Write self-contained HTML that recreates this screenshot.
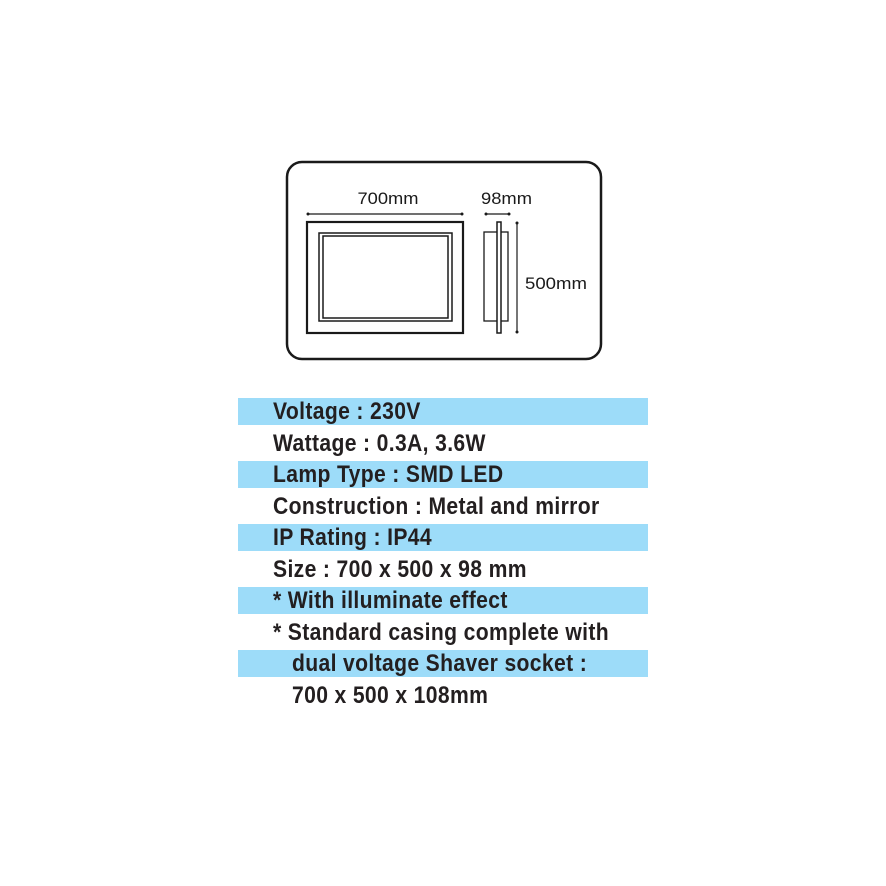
<!DOCTYPE html>
<html><head><meta charset="utf-8"><style>
body{margin:0;background:#fff;width:886px;height:886px;position:relative;overflow:hidden}
.b{position:absolute;left:238px;width:410px;height:27px;background:#9ddcf9}
.t{position:absolute;left:273px;font-family:"Liberation Sans",sans-serif;font-weight:bold;font-size:24px;color:#231f20;white-space:nowrap;line-height:27px;letter-spacing:0.4px;transform:scaleX(0.88);transform-origin:0 0}
</style></head><body>
<svg width="886" height="886" style="position:absolute;left:0;top:0" font-family="Liberation Sans, sans-serif">
<rect x="287" y="162" width="314" height="197" rx="15" fill="none" stroke="#1a1a1a" stroke-width="2.5"/>
<rect x="307" y="222" width="156" height="111" fill="none" stroke="#1a1a1a" stroke-width="2.2"/>
<rect x="319" y="233" width="133" height="88" fill="none" stroke="#1a1a1a" stroke-width="1.5"/>
<rect x="323" y="236" width="125" height="82" fill="none" stroke="#1a1a1a" stroke-width="1.5"/>
<line x1="307" y1="214" x2="463" y2="214" stroke="#1a1a1a" stroke-width="1.2"/>
<circle cx="308" cy="214" r="1.5" fill="#1a1a1a"/><circle cx="462" cy="214" r="1.5" fill="#1a1a1a"/>
<text x="388" y="204" font-size="16.5" text-anchor="middle" fill="#1a1a1a" textLength="61" lengthAdjust="spacingAndGlyphs">700mm</text>
<rect x="484" y="232" width="24" height="89" fill="none" stroke="#1a1a1a" stroke-width="1.3"/>
<rect x="497" y="222" width="4" height="111" fill="#fff" stroke="#1a1a1a" stroke-width="1.5"/>
<line x1="485" y1="214" x2="510" y2="214" stroke="#1a1a1a" stroke-width="1.2"/>
<circle cx="486" cy="214" r="1.5" fill="#1a1a1a"/><circle cx="509" cy="214" r="1.5" fill="#1a1a1a"/>
<text x="481" y="204" font-size="16.5" fill="#1a1a1a" textLength="51" lengthAdjust="spacingAndGlyphs">98mm</text>
<line x1="517" y1="222" x2="517" y2="333" stroke="#1a1a1a" stroke-width="1.2"/>
<circle cx="517" cy="223" r="1.5" fill="#1a1a1a"/><circle cx="517" cy="332" r="1.5" fill="#1a1a1a"/>
<text x="525" y="289" font-size="16.5" fill="#1a1a1a" textLength="62" lengthAdjust="spacingAndGlyphs">500mm</text>
</svg>
<div class="b" style="top:398px"></div>
<div class="b" style="top:461px"></div>
<div class="b" style="top:524px"></div>
<div class="b" style="top:587px"></div>
<div class="b" style="top:650px"></div>
<div class="t" style="top:398px">Voltage : 230V</div>
<div class="t" style="top:429.5px">Wattage : 0.3A, 3.6W</div>
<div class="t" style="top:461px">Lamp Type : SMD LED</div>
<div class="t" style="top:492.5px">Construction : Metal and mirror</div>
<div class="t" style="top:524px">IP Rating : IP44</div>
<div class="t" style="top:555.5px">Size : 700 x 500 x 98 mm</div>
<div class="t" style="top:587px">* With illuminate effect</div>
<div class="t" style="top:618.5px">* Standard casing complete with</div>
<div class="t" style="top:650px;left:292px">dual voltage Shaver socket :</div>
<div class="t" style="top:681.5px;left:292px">700 x 500 x 108mm</div>
</body></html>
